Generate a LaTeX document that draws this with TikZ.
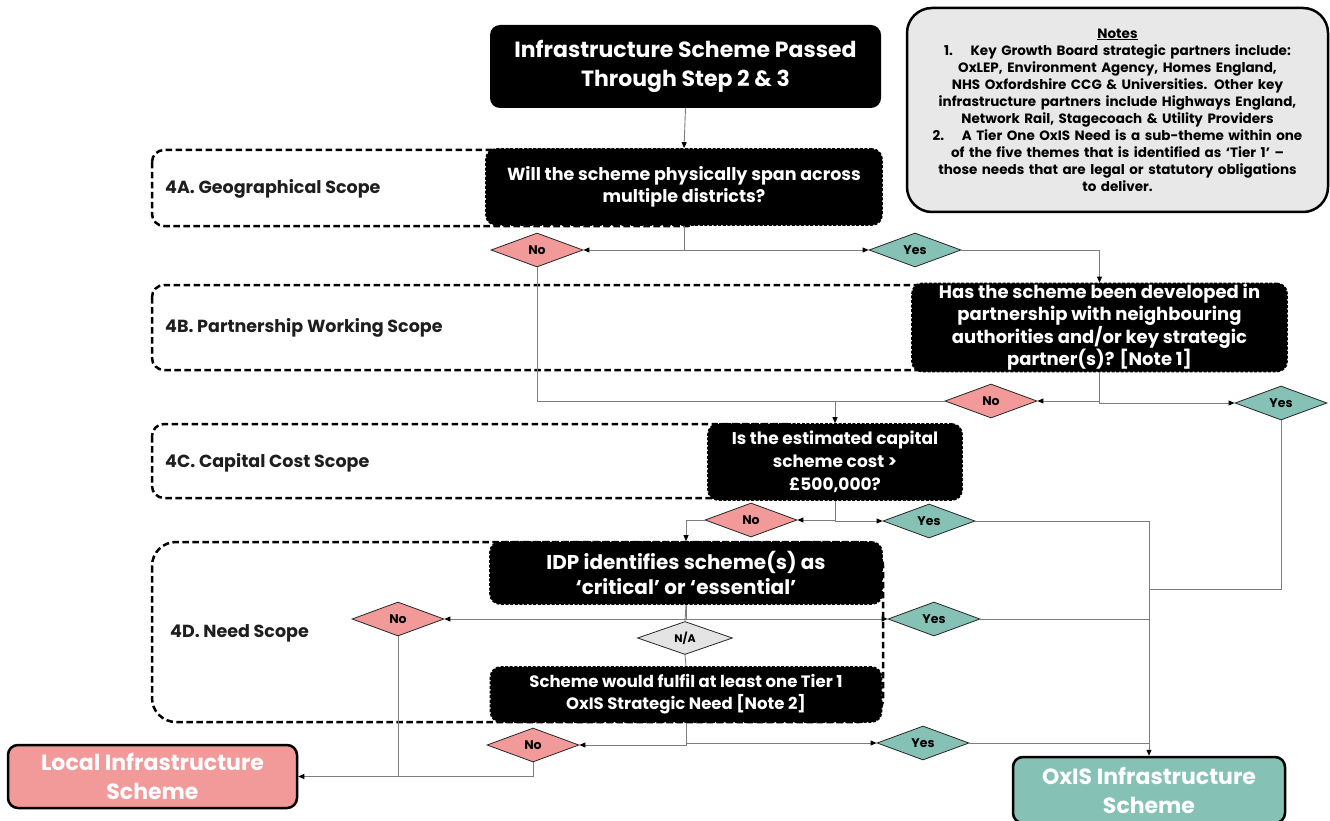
\documentclass[tikz,border=0pt]{standalone}
\usepackage{fontspec}
\setmainfont{Poppins}
\usetikzlibrary{shapes.geometric,arrows.meta}
\definecolor{pinkc}{RGB}{242,153,153}
\definecolor{tealc}{RGB}{134,193,182}
\definecolor{nagray}{RGB}{228,228,228}
\definecolor{notegray}{RGB}{232,232,232}
\definecolor{linec}{RGB}{125,125,125}
\definecolor{labc}{RGB}{30,30,30}
\begin{document}
\begin{tikzpicture}[x=1pt,y=-1pt,
  blackbox/.style={rectangle, rounded corners=10pt, fill=black, text=white, align=center, inner sep=1pt},
  qbox/.style={blackbox, draw=black, line width=1.6pt, dash pattern=on 3pt off 1.6pt},
  region/.style={draw=black, line width=2.5pt, dash pattern=on 6.5pt off 3.5pt, rounded corners=12pt},
  reglabel/.style={anchor=west, inner sep=0pt, text=labc, font=\bfseries\fontsize{17.5}{20}\selectfont},
  diam/.style={diamond, aspect=2.7, draw=black!85, line width=0.8pt, minimum width=92pt, minimum height=34pt, inner sep=0pt, font=\bfseries\fontsize{12.5}{12.5}\selectfont},
  nod/.style={diam, fill=pinkc},
  yesd/.style={diam, fill=tealc},
  conn/.style={draw=linec, line width=0.9pt},
  arr/.style={conn, -{Triangle[length=6pt,width=5pt,color=black]}},
  endbox/.style={rectangle, rounded corners=10pt, draw=black, line width=2.5pt, text=white, align=center, font=\bfseries\fontsize{22}{29}\selectfont}
]
\useasboundingbox (0,0) rectangle (1330,821);

% scope regions
\draw[region] (152,150) rectangle (700,226);
\draw[region] (152,285) rectangle (1000,370);
\draw[region] (152,424) rectangle (800,498);
\draw[region, rounded corners=24pt] (152,542) rectangle (883,722);
\node[reglabel] (labA) at (165,189) {4A. Geographical Scope};
\node[reglabel] (labB) at (165,328) {4B. Partnership Working Scope};
\node[reglabel] (labC) at (165,463) {4C. Capital Cost Scope};
\node[reglabel] (labD) at (170,633) {4D. Need Scope};

% notes
\node[rectangle, rounded corners=25pt, draw=black, line width=2.5pt, fill=notegray,
      minimum width=421pt, minimum height=204pt, text width=410pt, align=center,
      font=\bfseries\fontsize{13.5}{17}\selectfont] (notes) at (1117.5,110)
  {\underline{Notes}\\
   1.\hspace{1.3em}Key Growth Board strategic partners include:\\
   OxLEP, Environment Agency, Homes England,\\
   NHS Oxfordshire CCG \& Universities. Other key\\
   infrastructure partners include Highways England,\\
   Network Rail, Stagecoach \& Utility Providers\\
   2.\hspace{1.3em}A Tier One OxIS Need is a sub-theme within one\\
   of the five themes that is identified as ‘Tier 1’ –\\
   those needs that are legal or statutory obligations\\
   to deliver.};

% main boxes
\node[blackbox, minimum width=391pt, minimum height=83pt, font=\bfseries\fontsize{22}{29}\selectfont] (top) at (685.5,66.5)
  {Infrastructure Scheme Passed\\Through Step 2 \& 3};
\node[qbox, minimum width=396pt, minimum height=76pt, font=\bfseries\fontsize{17.5}{22}\selectfont] (q1) at (684,187)
  {Will the scheme physically span across\\multiple districts?};
\node[qbox, minimum width=375pt, minimum height=85pt, font=\bfseries\fontsize{18}{22}\selectfont] (q2) at (1099.5,327.5)
  {Has the scheme been developed in\\partnership with neighbouring\\authorities and/or key strategic\\partner(s)? [Note 1]};
\node[qbox, minimum width=254pt, minimum height=76pt, font=\bfseries\fontsize{17}{23}\selectfont] (q3) at (835,462)
  {Is the estimated capital\\scheme cost >\\£500,000?};
\node[qbox, minimum width=392pt, minimum height=62pt, font=\bfseries\fontsize{20}{25}\selectfont] (idp) at (686,573)
  {IDP identifies scheme(s) as\\‘critical’ or ‘essential’};
\node[qbox, minimum width=391pt, minimum height=55pt, font=\bfseries\fontsize{16.5}{22}\selectfont] (tier) at (686,694.5)
  {Scheme would fulfil at least one Tier 1\\OxIS Strategic Need [Note 2]};

% end boxes
\node[endbox, fill=pinkc, minimum width=289pt, minimum height=63pt] (local) at (152.5,776.5)
  {Local Infrastructure\\Scheme};
\node[endbox, fill=tealc, minimum width=272pt, minimum height=66pt] (oxis) at (1149,790)
  {OxIS Infrastructure\\Scheme};

% decision diamonds
\node[nod] (noA) at (537,250) {No};
\node[yesd] (yesA) at (915,250) {Yes};
\node[nod] (noB) at (991,401) {No};
\node[yesd] (yesB) at (1281,403) {Yes};
\node[nod] (noC) at (751,520) {No};
\node[yesd] (yesC) at (929,521) {Yes};
\node[nod] (noD) at (398,619) {No};
\node[yesd] (yesD) at (934,619) {Yes};
\node[diam, fill=nagray, minimum width=95pt, minimum height=33pt, font=\bfseries\fontsize{11}{11}\selectfont] (na) at (685,638) {N/A};
\node[nod] (noE) at (533,745) {No};
\node[yesd] (yesE) at (923,743) {Yes};

\coordinate (jB) at (1149,589);

% connectors
\draw[arr] (top.south) -- (q1.north);
\draw[arr] (q1.south) |- (noA.east);
\draw[arr] (q1.south) |- (yesA.west);
\draw[arr] (yesA.east) -| (q2.north);
\draw[conn] (noA.south) |- (q3.north |- noB.west);
\draw[arr] (q2.south) |- (noB.east);
\draw[arr] (q2.south) |- (yesB.west);
\draw[arr] (noB.west) -| (q3.north);
\draw[conn] (yesB.south) |- (jB);
\draw[arr] (q3.south) |- (noC.east);
\draw[arr] (q3.south) |- (yesC.west);
\draw[arr] (noC.west) -| (idp.north);
\draw[arr] (yesC.east) -| (oxis.north);
\draw[arr] (idp.south) |- (noD.east);
\draw[arr] (idp.south) |- (yesD.west);
\draw[conn] (idp.south) -- (na.north);
\draw[conn] (yesD.east) -- (oxis.north |- yesD.east);
\draw[conn] (na.south) -- (tier.north);
\draw[arr] (tier.south) |- (noE.east);
\draw[arr] (tier.south) |- (yesE.west);
\draw[conn] (yesE.east) -- (oxis.north |- yesE.east);
\draw[arr] (noD.south) |- (local.east);
\draw[conn] (noE.south) |- (noD.south |- local.east);
\end{tikzpicture}
\end{document}
